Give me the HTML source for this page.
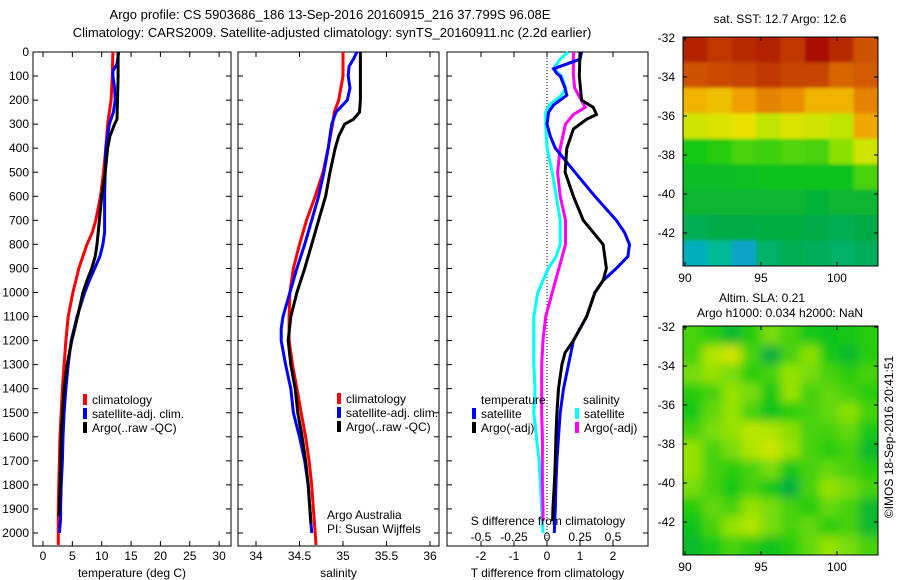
<!DOCTYPE html>
<html><head><meta charset="utf-8"><style>
body{margin:0;background:#fff;}
svg{display:block;font-family:"Liberation Sans",sans-serif;}
</style></head><body>
<svg id="chart" width="900" height="580" xmlns="http://www.w3.org/2000/svg">
<defs>
<filter id="blurSla" filterUnits="userSpaceOnUse" x="600" y="250" width="300" height="330"><feGaussianBlur stdDeviation="5"/></filter>
<filter id="blurSst" filterUnits="userSpaceOnUse" x="600" y="0" width="300" height="300"><feGaussianBlur stdDeviation="1.5"/></filter>
<clipPath id="clipSst"><rect x="683" y="37" width="195" height="229"/></clipPath>
<clipPath id="clipSla"><rect x="683" y="326" width="195" height="229"/></clipPath>
</defs>
<text x="330" y="19" text-anchor="middle" font-size="13">Argo profile: CS 5903686_186 13-Sep-2016 20160915_216 37.799S 96.08E</text>
<text x="332" y="37" text-anchor="middle" font-size="13">Climatology: CARS2009. Satellite-adjusted climatology: synTS_20160911.nc (2.2d earlier)</text>
<text x="780" y="23" text-anchor="middle" font-size="12">sat. SST: 12.7 Argo: 12.6</text>
<text x="762" y="302" text-anchor="middle" font-size="12">Altim. SLA: 0.21</text>
<text x="780" y="317" text-anchor="middle" font-size="12">Argo h1000: 0.034 h2000: NaN</text>
<text transform="translate(893,437) rotate(-90)" text-anchor="middle" font-size="12">©IMOS 18-Sep-2016 20:41:51</text>
</svg>
<script>
// ---- data ----
const depthTicks=[0,100,200,300,400,500,600,700,800,900,1000,1100,1200,1300,1400,1500,1600,1700,1800,1900,2000];
const tempTicks=[0,5,10,15,20,25,30];
const salTicks=[34,34.5,35,35.5,36];
const tdiffTicks=[-2,-1,0,1,2];
const sdiffTicks=[-0.5,-0.25,0,0.25,0.5];
const sdiffTickLabels=["-0.5","-0.25","0","0.25","0.5"];

const tClimDepth=[0,100,200,300,400,500,600,700,750,800,850,900,950,1000,1100,1200,1300,1400,1500,1600,1700,1800,1900,2000,2050];
const tClimVal=[11.9,11.8,11.6,11.0,10.7,10.3,9.8,9.0,8.4,7.5,6.8,6.1,5.6,5.1,4.3,3.9,3.6,3.3,3.1,2.9,2.8,2.7,2.6,2.6,2.6];
const tSatDepth=[0,50,80,100,150,200,250,300,400,500,600,700,750,800,850,900,950,1000,1100,1200,1300,1400,1500,1600,1700,1800,1900,1940,2000];
const tSatVal=[12.9,12.6,11.9,11.9,12.2,12.3,12.0,11.3,10.7,10.6,10.5,10.5,10.5,10.2,9.7,8.8,7.9,7.1,5.8,4.8,4.3,3.9,3.6,3.4,3.3,3.1,3.0,3.0,2.8];
const tArgoDepth=[0,100,200,280,300,350,400,500,600,700,800,850,900,950,1000,1100,1200,1300,1400,1500,1600,1700,1800,1900,1930];
const tArgoVal=[12.8,12.8,12.7,12.6,12.2,11.4,11.0,10.6,10.0,9.6,9.2,8.9,8.3,7.5,6.8,5.9,4.9,4.1,3.6,3.3,3.1,3.0,2.9,2.8,2.7];

const sClimDepth=[0,100,200,250,300,400,500,600,700,800,900,1000,1100,1200,1300,1400,1500,1600,1700,1800,1900,2000,2050];
const sClimVal=[35.0,35.0,34.95,34.9,34.88,34.83,34.77,34.68,34.58,34.5,34.43,34.39,34.38,34.38,34.42,34.47,34.52,34.57,34.61,34.64,34.66,34.68,34.69];
const sSatDepth=[0,30,60,100,150,200,250,300,400,500,600,700,800,900,1000,1100,1150,1200,1300,1400,1500,1600,1700,1800,1900,2000];
const sSatVal=[35.16,35.12,35.07,35.06,35.08,35.05,34.92,34.87,34.83,34.78,34.72,34.64,34.56,34.47,34.39,34.31,34.29,34.29,34.34,34.4,34.43,34.5,34.56,34.6,34.62,34.64];
const sArgoDepth=[0,100,200,250,280,300,350,400,500,600,700,800,900,1000,1100,1200,1300,1400,1500,1600,1700,1800,1900,1960];
const sArgoVal=[35.2,35.2,35.2,35.19,35.12,35.02,34.95,34.91,34.85,34.8,34.72,34.64,34.56,34.47,34.4,34.37,34.4,34.45,34.48,34.53,34.57,34.6,34.62,34.63];

const dtSatDepth=[0,30,70,90,100,150,180,220,250,300,350,400,450,500,600,700,750,800,850,900,950,1000,1100,1200,1300,1400,1500,1600,1700,1800,1900,2000];
const dtSatVal=[1.05,1.0,0.2,0.3,0.4,0.55,0.6,0.2,0.05,0,0.1,0.25,0.55,0.85,1.45,2.1,2.35,2.5,2.45,2.1,1.7,1.45,1.2,0.8,0.65,0.5,0.4,0.35,0.3,0.27,0.25,0.22];
const dtArgoDepth=[0,100,200,230,260,280,320,400,500,600,700,800,900,950,1000,1100,1200,1250,1300,1400,1500,1600,1700,1800,1900,1950];
const dtArgoVal=[1.0,0.98,1.05,1.4,1.5,1.2,0.8,0.6,0.55,0.8,1.1,1.7,1.8,1.7,1.45,1.2,0.8,0.55,0.45,0.35,0.3,0.27,0.25,0.22,0.18,0.17];
const dsSatDepth=[0,30,70,100,150,180,220,250,300,400,500,600,700,800,850,900,1000,1100,1200,1300,1400,1500,1600,1700,1800,1900,2000];
const dsSatVal=[0.16,0.1,0.05,0.11,0.14,0.11,0.02,-0.01,-0.01,0,0.04,0.07,0.1,0.1,0.07,0.01,-0.07,-0.1,-0.1,-0.1,-0.09,-0.1,-0.08,-0.06,-0.05,-0.04,-0.03];
const dsArgoDepth=[0,100,150,200,230,260,300,400,500,600,700,800,900,1000,1100,1200,1300,1400,1500,1600,1700,1800,1900,1950];
const dsArgoVal=[0.2,0.2,0.21,0.26,0.29,0.2,0.14,0.1,0.08,0.1,0.14,0.14,0.09,0.04,-0.01,-0.03,-0.04,-0.04,-0.04,-0.035,-0.035,-0.035,-0.03,-0.03];

const mapLonTicks=[90,95,100];
const mapLatTicks=[-32,-34,-36,-38,-40,-42];
const sstGrid=[
[0.95,0.92,0.94,0.95,0.92,0.98,0.94,0.88],
[0.88,0.89,0.9,0.92,0.9,0.9,0.85,0.87],
[0.72,0.7,0.75,0.8,0.78,0.72,0.72,0.8],
[0.6,0.62,0.64,0.58,0.62,0.6,0.58,0.74],
[0.4,0.42,0.45,0.44,0.46,0.45,0.52,0.6],
[0.36,0.36,0.37,0.38,0.38,0.38,0.38,0.45],
[0.34,0.34,0.34,0.34,0.34,0.33,0.34,0.34],
[0.28,0.3,0.3,0.31,0.31,0.3,0.28,0.3],
[0.12,0.18,0.1,0.25,0.28,0.27,0.25,0.27]];
const slaGrid=[
[0.45,0.42,0.35,0.42,0.5,0.45,0.4,0.38,0.4,0.42],
[0.45,0.56,0.6,0.45,0.32,0.45,0.52,0.4,0.35,0.42],
[0.5,0.53,0.5,0.42,0.45,0.53,0.5,0.45,0.42,0.45],
[0.42,0.45,0.53,0.5,0.4,0.53,0.45,0.48,0.45,0.42],
[0.4,0.48,0.53,0.45,0.38,0.42,0.45,0.48,0.52,0.45],
[0.45,0.5,0.53,0.57,0.56,0.52,0.45,0.45,0.48,0.4],
[0.53,0.45,0.5,0.56,0.6,0.53,0.45,0.42,0.45,0.35],
[0.53,0.45,0.42,0.45,0.5,0.4,0.45,0.48,0.45,0.42],
[0.5,0.45,0.4,0.45,0.4,0.32,0.45,0.53,0.5,0.45],
[0.42,0.48,0.45,0.53,0.5,0.45,0.42,0.48,0.45,0.35],
[0.38,0.45,0.53,0.56,0.5,0.45,0.48,0.42,0.45,0.35],
[0.35,0.4,0.45,0.42,0.38,0.42,0.48,0.53,0.5,0.45]];

// ---- drawing ----
const svg=document.getElementById('chart');
const NS='http://www.w3.org/2000/svg';
function mk(tag,attrs,parent){const e=document.createElementNS(NS,tag);for(const k in attrs)e.setAttribute(k,attrs[k]);(parent||svg).appendChild(e);return e;}
function txt(x,y,s,anchor,size,parent){const e=mk('text',{x:x,y:y,'text-anchor':anchor||'start','font-size':size||12},parent);e.textContent=s;return e;}
const yD=d=>52+d*0.2405;
const TOP=52,BOT=546;
function panel(name,x0,x1,xs,ticks,labels,xlabel,showY){
  const g=mk('g',{});
  
  
  const r=mk('rect',{x:x0,y:TOP,width:x1-x0,height:BOT-TOP,fill:'none',stroke:'#000','stroke-width':1},g);
  
  
  depthTicks.forEach(d=>{
    mk('line',{x1:x0,x2:x0+5,y1:yD(d),y2:yD(d),stroke:'#000'},g);
    mk('line',{x1:x1-5,x2:x1,y1:yD(d),y2:yD(d),stroke:'#000'},g);
    if(showY){const t=txt(29,yD(d)+4,String(d),'end',12,g);
      
      }
  });
  ticks.forEach((v,i)=>{
    const x=xs(v);
    mk('line',{x1:x,x2:x,y1:BOT,y2:BOT-5,stroke:'#000'},g);
    mk('line',{x1:x,x2:x,y1:TOP,y2:TOP+5,stroke:'#000'},g);
    const t=txt(x,560,labels?labels[i]:String(v),'middle',12,g);
    
    
  });
  const xl=txt((x0+x1)/2,577,xlabel,'middle',12,g);
  
  
  return g;
}
function line(name,depths,vals,xs,color,g){
  const pts=depths.map((d,i)=>xs(vals[i]).toFixed(1)+','+yD(d).toFixed(1)).join(' ');
  const p=mk('polyline',{points:pts,fill:'none',stroke:color,'stroke-width':3,'stroke-linejoin':'miter'},g);
  
  
}
function legendEntry(name,x,y,color,label,g){
  mk('rect',{x:x,y:y-10,width:4,height:11,fill:color},g);
  const t=txt(x+9,y,label,'start',12,g);
  
  
}
// panel 1 temperature
const xT=v=>43+v*5.87;
const g1=panel('temperature-panel',33,231,xT,tempTicks,null,'temperature (deg C)',true);
line('temp-climatology-line',tClimDepth,tClimVal,xT,'#ff0000',g1);
line('temp-satellite-line',tSatDepth,tSatVal,xT,'#0000ff',g1);
line('temp-argo-line',tArgoDepth,tArgoVal,xT,'#000000',g1);
legendEntry('legend-climatology',83,404,'#ff0000','climatology',g1);
legendEntry('legend-satellite-adj',83,418,'#0000ff','satellite-adj. clim.',g1);
legendEntry('legend-argo',83,432,'#000000','Argo(..raw -QC)',g1);
// panel 2 salinity
const xS=v=>256+(v-34)*87;
const g2=panel('salinity-panel',238,439,xS,salTicks,null,'salinity',false);
line('sal-climatology-line',sClimDepth,sClimVal,xS,'#ff0000',g2);
line('sal-satellite-line',sSatDepth,sSatVal,xS,'#0000ff',g2);
line('sal-argo-line',sArgoDepth,sArgoVal,xS,'#000000',g2);
legendEntry('legend-climatology-sal',337,403,'#ff0000','climatology',g2);
legendEntry('legend-satellite-adj-sal',337,417,'#0000ff','satellite-adj. clim.',g2);
legendEntry('legend-argo-sal',337,431,'#000000','Argo(..raw -QC)',g2);
let t1=txt(327,519,'Argo Australia','start',12,g2);
let t2=txt(327,533,'PI: Susan Wijffels','start',12,g2);
// panel 3 differences
const xDT=v=>547+v*33;
const xDS=v=>547+v*132;
const g3=panel('difference-panel',447,648,xDT,tdiffTicks,null,'T difference from climatology',false);
mk('line',{x1:xDT(0),x2:xDT(0),y1:TOP,y2:BOT,stroke:'#000','stroke-dasharray':'1,2'},g3);
line('sdiff-satellite-line',dsSatDepth,dsSatVal,xDS,'#00ffff',g3);
line('sdiff-argo-line',dsArgoDepth,dsArgoVal,xDS,'#ff00ff',g3);
line('tdiff-satellite-line',dtSatDepth,dtSatVal,xDT,'#0000ff',g3);
line('tdiff-argo-line',dtArgoDepth,dtArgoVal,xDT,'#000000',g3);
sdiffTicks.forEach((v,i)=>{const t=txt(xDS(v),541,sdiffTickLabels[i],'middle',12,g3);
  
  });
let t3=txt(548,525,'S difference from climatology','middle',12,g3);
let t4=txt(481,404,'temperature','start',12,g3);
let t5=txt(583,404,'salinity','start',12,g3);
legendEntry('legend-tdiff-satellite',472,418,'#0000ff','satellite',g3);
legendEntry('legend-tdiff-argo',472,432,'#000000','Argo(-adj)',g3);
legendEntry('legend-sdiff-satellite',575,418,'#00ffff','satellite',g3);
legendEntry('legend-sdiff-argo',575,432,'#ff00ff','Argo(-adj)',g3);
// maps
const stops=[[0,[30,110,255]],[0.15,[0,190,170]],[0.3,[0,170,70]],[0.4,[20,200,20]],[0.55,[170,230,0]],[0.65,[240,225,0]],[0.75,[240,160,0]],[0.87,[210,90,0]],[1,[160,0,0]]];
function col(v){for(let i=1;i<stops.length;i++){if(v<=stops[i][0]){const a=stops[i-1],b=stops[i],f=(v-a[0])/(b[0]-a[0]);const c=a[1].map((x,k)=>Math.round(x+(b[1][k]-x)*f));return 'rgb('+c.join(',')+')';}}return 'rgb(160,0,0)';}
function map(name,grid,top,filt,clip){
  const x0=683,x1=878,h=229;
  const lat2y=l=>top+(-32-l)*19.5+1;
  const lon2x=l=>683+(l-89.87)*15.2;
  const g=mk('g',{});
  
  
  const clipG=mk('g',{'clip-path':'url(#'+clip+')'},g);
  const cells=mk('g',{filter:'url(#'+filt+')'},clipG);
  const rows=grid.length,cols=grid[0].length,cw=(x1-x0)/cols,ch=h/rows;
  const PAD=20;
  grid.forEach((row,r)=>row.forEach((v,c)=>{
    // extend edge cells outward so the blur doesn't fade at the frame
    const ex0=c===0?PAD:0, ex1=c===cols-1?PAD:0, ey0=r===0?PAD:0, ey1=r===rows-1?PAD:0;
    const cell=mk('rect',{x:x0+c*cw-ex0,y:top+r*ch-ey0,width:cw+0.6+ex0+ex1,height:ch+0.6+ey0+ey1,fill:col(v)},cells);
    
    
  }));
  mk('rect',{x:x0,y:top,width:x1-x0,height:h,fill:'none',stroke:'#000'},g);
  mapLatTicks.forEach(l=>{const y=lat2y(l);mk('line',{x1:x0,x2:x0+4,y1:y,y2:y,stroke:'#000'},g);mk('line',{x1:x1-4,x2:x1,y1:y,y2:y,stroke:'#000'},g);
    const t=txt(675,y+4,String(l),'end',12,g);});
  mapLonTicks.forEach(l=>{const x=lon2x(l);mk('line',{x1:x,x2:x,y1:top+h,y2:top+h-4,stroke:'#000'},g);mk('line',{x1:x,x2:x,y1:top,y2:top+4,stroke:'#000'},g);
    const t=txt(x,top+h+16,String(l),'middle',12,g);});
}
map('sst-map',sstGrid,37,'blurSst','clipSst');
map('sla-map',slaGrid,326,'blurSla','clipSla');
</script>
</body></html>
